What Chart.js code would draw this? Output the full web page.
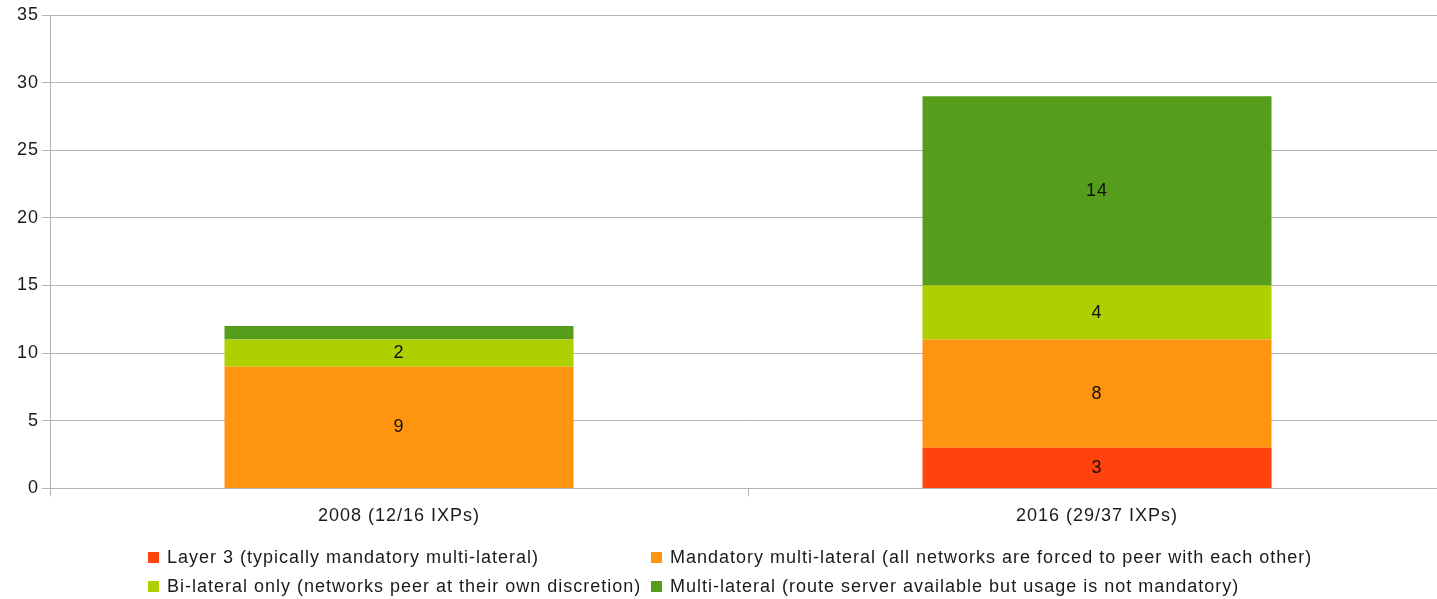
<!DOCTYPE html>
<html lang="en">
<head>
    <meta charset="UTF-8">
    <title>IXP peering policies</title>
    <script src="https://cdn.jsdelivr.net/npm/chart.js"></script>
    <style>
        body {
            margin: 0;
            background: #ffffff;
            font-family: 'Liberation Sans', Arial, sans-serif;
            overflow: hidden;
        }
        .wrap {
            position: relative;
            width: 1437px;
            height: 599px;
            overflow: hidden;
        }
        .legend {
            position: absolute;
            left: 148px;
            top: 547px;
            display: grid;
            grid-template-columns: 503px auto;
            row-gap: 8px;
            font-size: 18px;
            letter-spacing: 1px;
            white-space: nowrap;
            color: #1a1a1a;
        }
        .legend span.box {
            display: inline-block;
            width: 11px;
            height: 11px;
            margin-right: 8px;
        }
    </style>
</head>
<body>
    <div class="wrap">
        <canvas id="chart" width="1446" height="599"></canvas>
        <div class="legend" id="legend"></div>
    </div>

    <script>
        const categories = ['2008 (12/16 IXPs)', '2016 (29/37 IXPs)'];
        const seriesNames = [
            'Layer 3 (typically mandatory multi-lateral)',
            'Mandatory multi-lateral (all networks are forced to peer with each other)',
            'Bi-lateral only (networks peer at their own discretion)',
            'Multi-lateral (route server available but usage is not mandatory)'
        ];
        const layer3 = [0, 3];
        const mandatory = [9, 8];
        const bilateral = [2, 4];
        const multilateral = [1, 14];
        const colors = ['#ff420e', '#ff950e', '#aecf00', '#579d1c'];
        const yTicks = [0, 5, 10, 15, 20, 25, 30, 35];

        const fontFamily = '"Liberation Sans", Arial, sans-serif';

        // the source text is spaced out a bit wider than plain Liberation Sans
        const wideText = {
            id: 'wideText',
            beforeDraw(chart) {
                chart.ctx.letterSpacing = '1px';
            }
        };

        // write values in the middle of each segment (skip tiny ones like the source does)
        const segmentLabels = {
            id: 'segmentLabels',
            afterDatasetsDraw(chart) {
                const ctx = chart.ctx;
                ctx.save();
                ctx.font = '18px ' + fontFamily;
                ctx.fillStyle = '#111111';
                ctx.textAlign = 'center';
                ctx.textBaseline = 'middle';
                chart.data.datasets.forEach((ds, i) => {
                    chart.getDatasetMeta(i).data.forEach((bar, j) => {
                        const v = ds.data[j];
                        if (!v) return;
                        if (Math.abs(bar.base - bar.y) < 18) return;
                        ctx.fillText(String(v), bar.x, (bar.y + bar.base) / 2);
                    });
                });
                ctx.restore();
            }
        };

        const seriesData = [layer3, mandatory, bilateral, multilateral];

        const chart = new Chart(document.getElementById('chart'), {
            type: 'bar',
            data: {
                labels: categories,
                datasets: seriesNames.map((name, i) => ({
                    label: name,
                    data: seriesData[i],
                    backgroundColor: colors[i],
                    borderWidth: 0,
                    categoryPercentage: 1,
                    barPercentage: 0.5
                }))
            },
            options: {
                responsive: false,
                animation: false,
                layout: { padding: { top: 15, right: 0, bottom: 63, left: 0 } },
                plugins: {
                    legend: { display: false },
                    tooltip: { enabled: false }
                },
                scales: {
                    x: {
                        stacked: true,
                        grid: {
                            offset: true,
                            drawOnChartArea: false,
                            drawTicks: true,
                            tickLength: 8,
                            color: '#b3b3b3'
                        },
                        border: { color: '#b3b3b3' },
                        ticks: {
                            color: '#1a1a1a',
                            padding: 9,
                            font: { family: fontFamily, size: 18 }
                        }
                    },
                    y: {
                        stacked: true,
                        min: 0,
                        max: 35,
                        afterFit(scale) { scale.width = 50; },
                        afterBuildTicks(scale) { scale.ticks = yTicks.map(v => ({ value: v })); },
                        grid: {
                            color: '#b3b3b3',
                            tickLength: 8
                        },
                        border: { color: '#b3b3b3' },
                        ticks: {
                            color: '#1a1a1a',
                            padding: 3,
                            font: { family: fontFamily, size: 18 }
                        }
                    }
                }
            },
            plugins: [wideText, segmentLabels]
        });

        // legend in two aligned columns like the original
        const legend = document.getElementById('legend');
        [0, 1, 2, 3].forEach(i => {
            const item = document.createElement('div');
            item.innerHTML = '<span class="box" style="background:' + colors[i] + '"></span>' + seriesNames[i];
            legend.appendChild(item);
        });
    </script>
</body>
</html>
